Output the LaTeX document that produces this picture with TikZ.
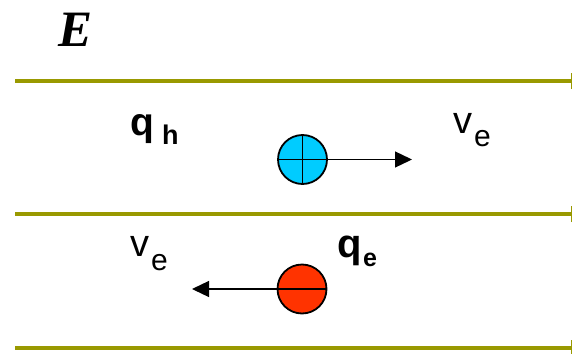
\documentclass[tikz,border=0pt]{standalone}
\usepackage{fontspec}
\setmainfont{Liberation Sans}
\newfontfamily\timesf{Liberation Serif}
\usetikzlibrary{arrows.meta}
\definecolor{olivebar}{HTML}{999900}
\definecolor{holeblue}{HTML}{00CCFF}
\definecolor{elecred}{HTML}{FF3300}
\begin{document}
\begin{tikzpicture}[x=1pt,y=-1pt,
  plate/.style={draw=olivebar,line width=4pt},
  tick/.style={draw=olivebar,line width=0.7pt},
  charge/.style={circle,draw=black,line width=1.8pt,minimum size=49pt,inner sep=0pt},
  vel/.style={draw=black,line width=1.3pt,-{Triangle[length=17pt,width=16pt]}},
  lbl/.style={anchor=base west,inner sep=0pt,outer sep=0pt}]
\useasboundingbox (0,0) rectangle (572,353);
% plates
\foreach \n/\yy in {a/81,b/214,c/348}{
  \coordinate (\n1) at (15,\yy);
  \coordinate (\n2) at (571,\yy);
  \draw[plate] (\n1) -- (\n2);
  \draw[tick] ([yshift=-8]\n2) -- ([yshift=8]\n2);
}
% field label
\node[lbl,font=\timesf\bfseries\itshape\fontsize{51}{51}\selectfont] (E) at (58,46) {E};
% hole
\node[charge,fill=holeblue] (h) at (302.5,159.5) {};
\draw[line width=1.8pt] (h.north) -- (h.south) (h.west) -- (h.east);
\coordinate (ht) at (412,159.5);
\draw[vel] (h.east) -- (ht);
% electron
\node[charge,fill=elecred] (e) at (302,289) {};
\draw[line width=1.8pt] (e.west) -- (e.east);
\coordinate (et) at (192,289);
\draw[vel] (e.west) -- (et);
% labels
\node[lbl,font=\bfseries\fontsize{39}{39}\selectfont] (qh) at (130,135) {q};
\node[lbl,font=\bfseries\fontsize{27}{27}\selectfont] (qhs) at (162,144) {h};
\node[lbl,font=\fontsize{38}{38}\selectfont] (v1) at (453,133) {v};
\node[lbl,font=\fontsize{30}{30}\selectfont] (v1s) at (474,146) {e};
\node[lbl,font=\fontsize{38}{38}\selectfont] (v2) at (130,256) {v};
\node[lbl,font=\fontsize{30}{30}\selectfont] (v2s) at (151,270) {e};
\node[lbl,font=\bfseries\fontsize{40}{40}\selectfont] (qe) at (337,257) {q};
\node[lbl,font=\bfseries\fontsize{25}{25}\selectfont] (qes) at (363,266) {e};
\end{tikzpicture}
\end{document}
